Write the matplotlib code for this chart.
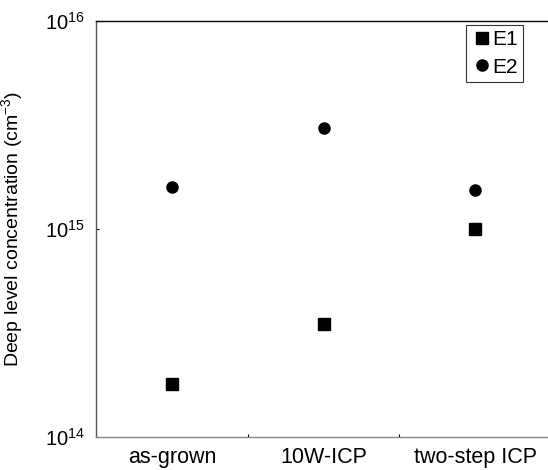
import matplotlib
matplotlib.use("Agg")
import matplotlib.pyplot as plt

plt.rcParams['font.family'] = ['Liberation Sans', 'DejaVu Sans']

categories = ["as-grown", "10W-ICP", "two-step ICP"]
e1 = [1.8e14, 3.5e14, 1.0e15]
e2 = [1.6e15, 3.05e15, 1.54e15]

fig = plt.figure(figsize=(5.48, 4.70), dpi=100)
ax = fig.add_axes([96/548, 1-437/470, (551-96)/548, (437-21)/470])
x = list(range(1, len(categories) + 1))
ax.plot(x, e1, 's', color='black', ms=8, label='E1', clip_on=False)
ax.plot(x, e2, 'o', color='black', ms=8, label='E2', clip_on=False)
ax.set_yscale('log')
ax.set_ylim(1e14, 1e16)
ax.set_xlim(0.5, 3.5)
ax.set_xticks([1.5, 2.5])
ax.set_xticklabels([])
ax.set_xticks(x, minor=True)
ax.set_xticklabels(categories, minor=True, fontsize=15.5)
ax.tick_params(axis='x', which='minor', length=0, pad=7)
ax.tick_params(axis='x', which='major', direction='in', length=2)
ax.set_yticks([1e14, 1e15, 1e16])
ax.set_yticklabels(['$\\mathregular{10^{14}}$', '$\\mathregular{10^{15}}$', '$\\mathregular{10^{16}}$'], fontsize=14.5)
ax.yaxis.set_minor_locator(matplotlib.ticker.NullLocator())
ax.tick_params(axis='y', which='major', direction='in', length=2, pad=8)
ax.set_ylabel('Deep level concentration (cm$^{\\mathregular{-3}}$)', fontsize=14, labelpad=14)
for s in ax.spines.values():
    s.set_linewidth(1)
ax.spines['left'].set_color('#555555')
ax.spines['bottom'].set_color('#888888')
leg = ax.legend(loc='upper left', bbox_to_anchor=(466/548, 1-25/470), bbox_transform=fig.transFigure,
                fontsize=15, frameon=True, fancybox=False, edgecolor='black',
                handletextpad=0.0, handlelength=1.0, borderpad=0.25, labelspacing=0.4, borderaxespad=0)
leg.get_frame().set_linewidth(0.8)
fig.savefig('out.png', dpi=100)
